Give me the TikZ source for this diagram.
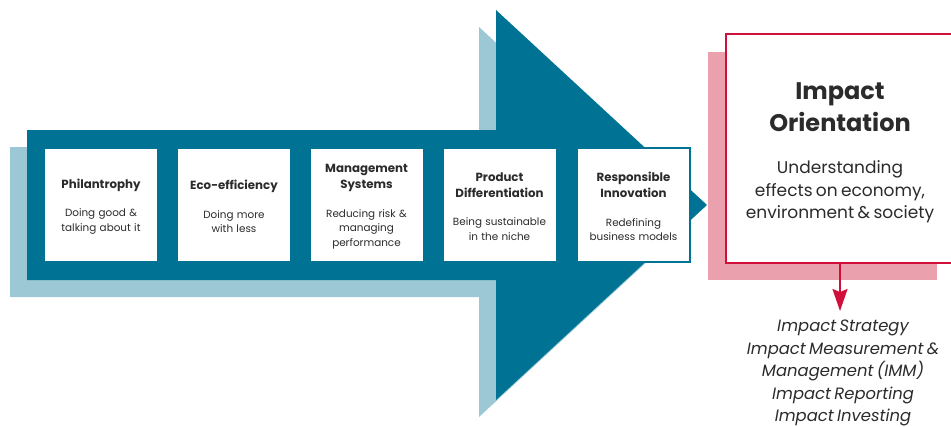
\documentclass[tikz,border=0pt]{standalone}
\usepackage{fontspec}
\setmainfont{Poppins}
\usetikzlibrary{arrows.meta}
\definecolor{arrowteal}{HTML}{007394}
\definecolor{lightteal}{HTML}{9CC8D5}
\definecolor{pinkshadow}{HTML}{EBA0AE}
\definecolor{impactred}{HTML}{D0103A}
\definecolor{txt}{HTML}{2B2B2B}
\tikzset{
  stagebox/.style={fill=white, draw=none, minimum width=112pt, minimum height=112pt, inner sep=0pt, text width=110pt, align=center, text=txt},
  plaintext/.style={align=center, text=txt, inner sep=0pt, text width=230pt},
}
\newcommand{\stagetext}[2]{{\fontsize{11.8}{16}\selectfont\bfseries #1\par}\vspace{14pt}{\fontsize{10.4}{14.5}\selectfont #2\par}}
\begin{document}
\begin{tikzpicture}[x=1pt,y=-1pt]
\useasboundingbox (0,0) rectangle (951,426);
% light shadow arrow
\fill[lightteal] (10,147) -- (479,147) -- (479,27) -- (690,222) -- (479,417) -- (479,297) -- (10,297) -- cycle;
% dark arrow
\fill[arrowteal] (27,130) -- (496,130) -- (496,10) -- (707,205) -- (496,400) -- (496,280) -- (27,280) -- cycle;
% stage boxes (white squares)
\foreach \n/\x in {s1/101, s2/234, s3/366.5, s4/499.5}
  \node[stagebox] (\n) at (\x,204.5) {};
\node[stagebox, draw=arrowteal, line width=1.3pt, minimum width=113pt, minimum height=114pt] (s5) at (633.5,205) {};
% stage texts
\node[stagebox, fill=none] (t1) at (101,206.5) {\stagetext{Philantrophy}{Doing good \&\\talking about it}};
\node[stagebox, fill=none] (t2) at (234,206.5) {\stagetext{Eco-efficiency}{Doing more\\with less}};
\node[stagebox, fill=none] (t3) at (366.5,206.5) {\stagetext{Management\\Systems}{Reducing risk \&\\managing\\performance}};
\node[stagebox, fill=none] (t4) at (499.5,206.5) {\stagetext{Product\\Differentiation}{Being sustainable\\in the niche}};
\node[stagebox, fill=none] (t5) at (633.5,206.5) {\stagetext{Responsible\\Innovation}{Redefining\\business models}};
% impact box
\fill[pinkshadow] (708,52) rectangle (937,280);
\node[draw=impactred, line width=2pt, fill=white, minimum width=240pt, minimum height=229pt, anchor=north west, inner sep=0pt] (imp) at (725,33) {};
\node[plaintext] (impt) at (840,107) {\fontsize{24}{32}\selectfont\bfseries Impact\\Orientation\par};
\node[plaintext] (impd) at (840,192) {\fontsize{17}{22.5}\selectfont Understanding\\effects on economy,\\environment \& society\par};
\coordinate (impbot) at (840,262);
\coordinate (arrtip) at (840,311);
\node[plaintext, anchor=north] (list) at (843,320) {\fontsize{16.4}{22.5}\selectfont\itshape Impact Strategy\\Impact Measurement \&\\Management (IMM)\\Impact Reporting\\Impact Investing\par};
\draw[impactred, line width=2pt, -{Stealth[width=15pt,length=22pt,inset=3pt]}] (impbot) -- (arrtip);
\end{tikzpicture}
\end{document}
